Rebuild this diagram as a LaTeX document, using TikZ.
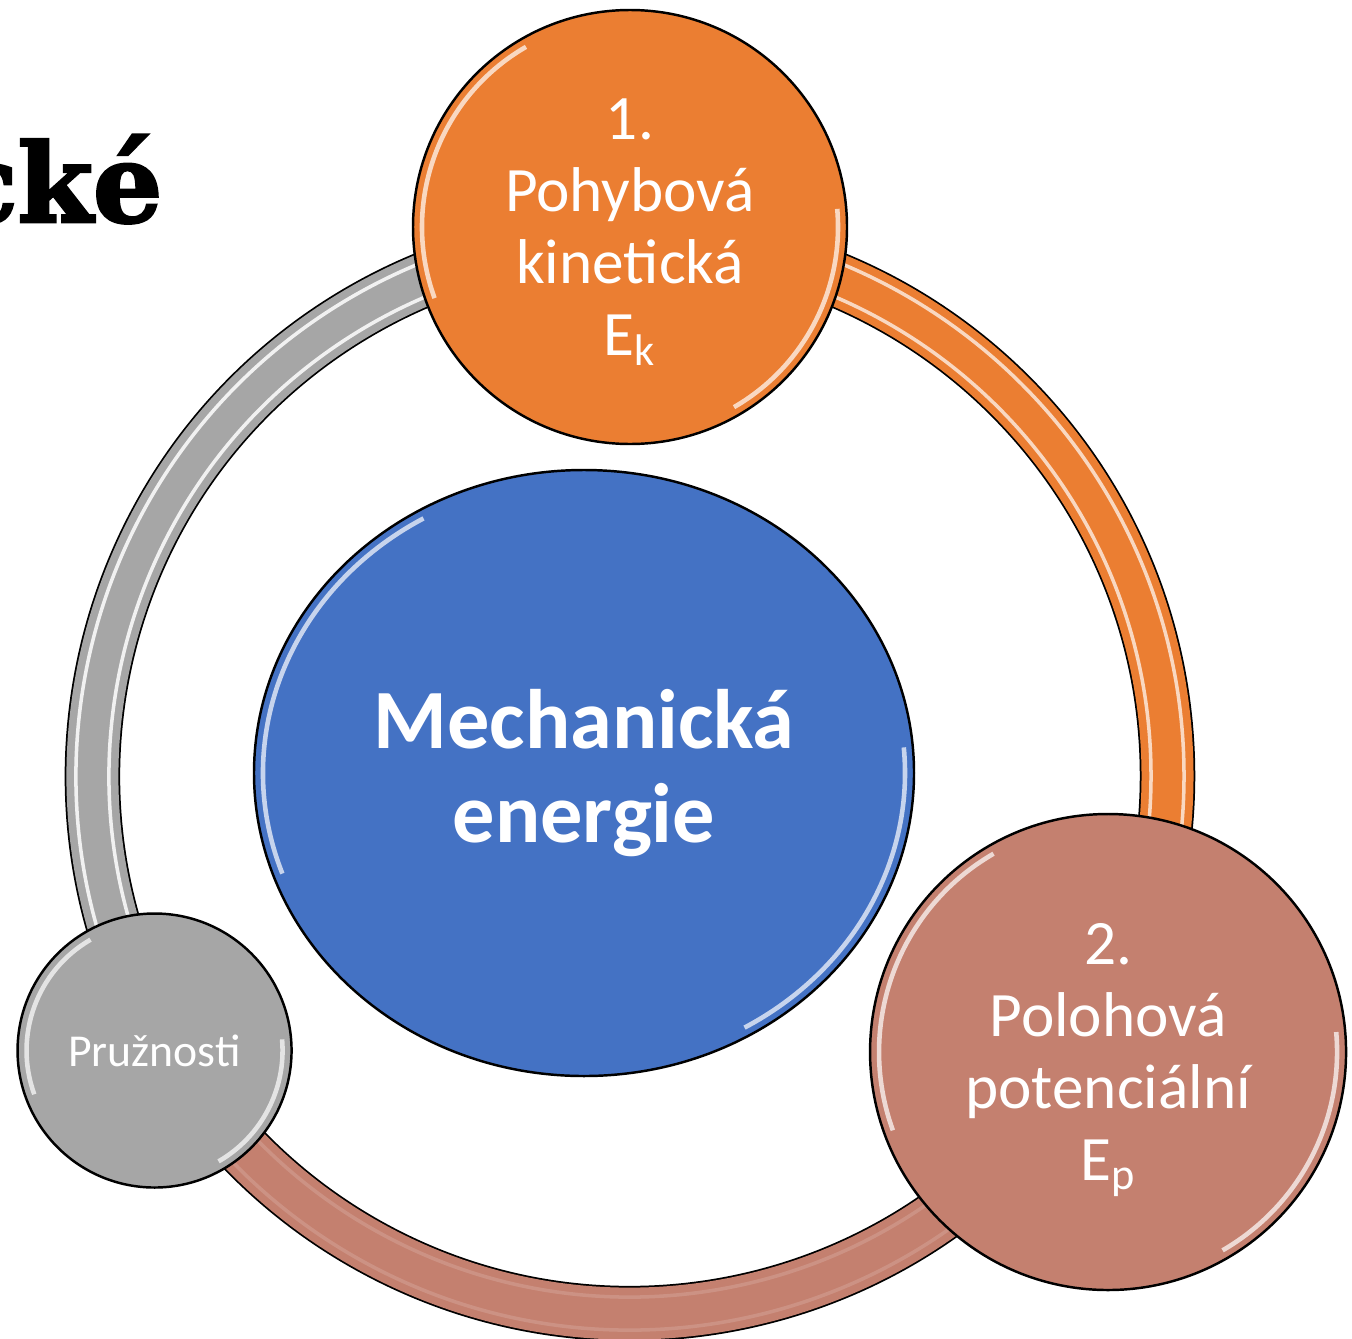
\documentclass[tikz,border=0pt]{standalone}
\usepackage{fontspec}
\setmainfont{Carlito}
\newfontfamily\slab[BoldFeatures={FakeBold=2.5}]{DejaVu Serif}
\usetikzlibrary{calc,positioning,shapes.geometric}

\definecolor{kinorange}{HTML}{EB7E32}
\definecolor{potrose}{HTML}{C4806F}
\definecolor{elastgrey}{HTML}{A6A6A6}
\definecolor{mechblue}{HTML}{4472C4}

\tikzset{
  bubble/.style={circle,draw=black,line width=0.7pt,inner sep=0pt,text=white,align=center},
  bigtext/.style={font=\fontsize{18}{20.5}\selectfont},
  gloss/.style={white,opacity=0.7,line width=1.3pt}
}

\begin{document}
\begin{tikzpicture}
    \useasboundingbox (0,0) rectangle (13.52,13.38);
    \coordinate (hub) at (6.30,5.62);
    % ring pieces between the bubbles
    \foreach \s/\col/\shine in {90/kinorange/0.7,-30/potrose/0.15,-150/elastgrey/0.85}{
      \draw[line width=0.555cm] (hub) ++(\s:5.375) arc[start angle=\s,delta angle=-120,radius=5.375];
      \draw[line width=0.52cm,\col] (hub) ++(\s:5.375) arc[start angle=\s,delta angle=-120,radius=5.375];
      \draw[white,opacity=\shine,line width=1pt] (hub) ++(\s:5.21) arc[start angle=\s,delta angle=-120,radius=5.21];
      \draw[white,opacity=\shine,line width=1pt] (hub) ++(\s:5.54) arc[start angle=\s,delta angle=-120,radius=5.54];
    }
    \node[bubble,ellipse,fill=mechblue,minimum width=6.60cm,minimum height=6.06cm,
          font=\bfseries\fontsize{24}{26.5}\selectfont] (mech) at (5.84,5.65) {Mechanická\\energie};
    \node[bubble,bigtext,fill=kinorange,minimum size=4.34cm] (kin) at ($(hub)+(90:5.49)$) {1.\\Pohybová\\kinetická\\E\smash{\textsubscript{k}}};
    \node[bubble,bigtext,fill=potrose,minimum size=4.76cm] (pot) at ($(hub)+(-30:5.52)$) {2.\\Polohová\\potenciální\\E\smash{\textsubscript{p}}};
    \node[bubble,fill=elastgrey,minimum size=2.74cm,font=\fontsize{13}{15}\selectfont] (elast) at ($(hub)+(210:5.49)$) {Pružnosti};
    % shine along the rims
    \foreach \n/\rx/\ry in {mech/3.30/3.03,kin/2.17/2.17,pot/2.38/2.38,elast/1.37/1.37}{
      \pgfmathsetmacro\ra{\rx-0.09}
      \pgfmathsetmacro\rb{\ry-0.09}
      \draw[gloss] (\n.center) ++(120:\ra cm and \rb cm) arc[start angle=120,end angle=200,x radius=\ra,y radius=\rb];
      \draw[gloss] (\n.center) ++(-60:\ra cm and \rb cm) arc[start angle=-60,end angle=5,x radius=\ra,y radius=\rb];
    }
    \node[anchor=base east,inner sep=0pt,font=\slab\bfseries\fontsize{31}{31}\selectfont] (title) at (1.63,11.16) {cké};
\end{tikzpicture}
\end{document}
